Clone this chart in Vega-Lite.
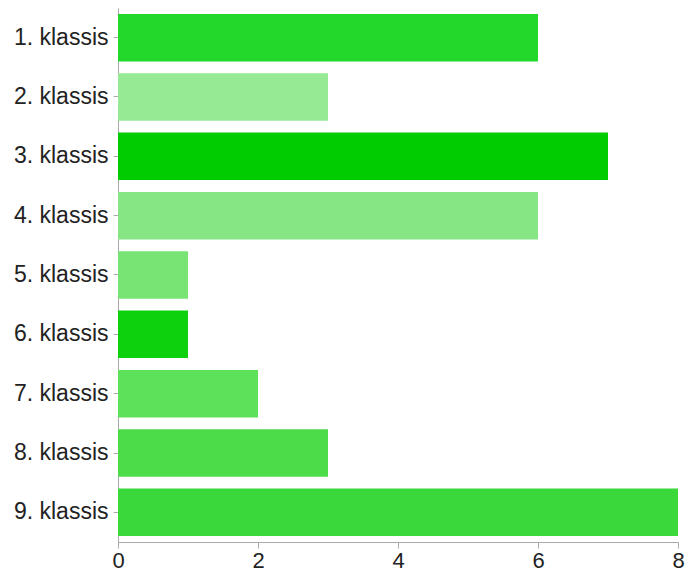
{
  "$schema": "https://vega.github.io/schema/vega-lite/v6.json",
  "autosize": "none",
  "padding": {"left": 118, "top": 8, "right": 9, "bottom": 30},
  "width": 560,
  "height": 534,
  "background": "white",
  "data": {
    "values": [
      {"klass": "1. klassis", "value": 6, "color": "#22d82a"},
      {"klass": "2. klassis", "value": 3, "color": "#95ea93"},
      {"klass": "3. klassis", "value": 7, "color": "#00cc00"},
      {"klass": "4. klassis", "value": 6, "color": "#86e683"},
      {"klass": "5. klassis", "value": 1, "color": "#78e474"},
      {"klass": "6. klassis", "value": 1, "color": "#0ed10e"},
      {"klass": "7. klassis", "value": 2, "color": "#5de15b"},
      {"klass": "8. klassis", "value": 3, "color": "#4cdc4a"},
      {"klass": "9. klassis", "value": 8, "color": "#3ad83a"}
    ]
  },
  "mark": {"type": "bar"},
  "encoding": {
    "y": {
      "field": "klass",
      "type": "nominal",
      "sort": null,
      "scale": {"paddingInner": 0.2, "paddingOuter": 0.1},
      "axis": {
        "title": null,
        "labelFont": "Liberation Sans",
        "labelFontSize": 23,
        "labelColor": "#222222",
        "labelPadding": 5,
        "tickSize": 5,
        "tickColor": "#aaaaaa",
        "domainColor": "#aaaaaa",
        "grid": false
      }
    },
    "x": {
      "field": "value",
      "type": "quantitative",
      "scale": {"domain": [0, 8], "nice": false},
      "axis": {
        "title": null,
        "values": [0, 2, 4, 6, 8],
        "labelFont": "Liberation Sans",
        "labelFontSize": 22,
        "labelColor": "#222222",
        "labelPadding": 2,
        "tickSize": 6,
        "tickColor": "#aaaaaa",
        "domainColor": "#aaaaaa",
        "grid": false,
        "labelFlush": false
      }
    },
    "color": {"field": "color", "type": "nominal", "scale": null, "legend": null}
  },
  "config": {"view": {"stroke": null}}
}
